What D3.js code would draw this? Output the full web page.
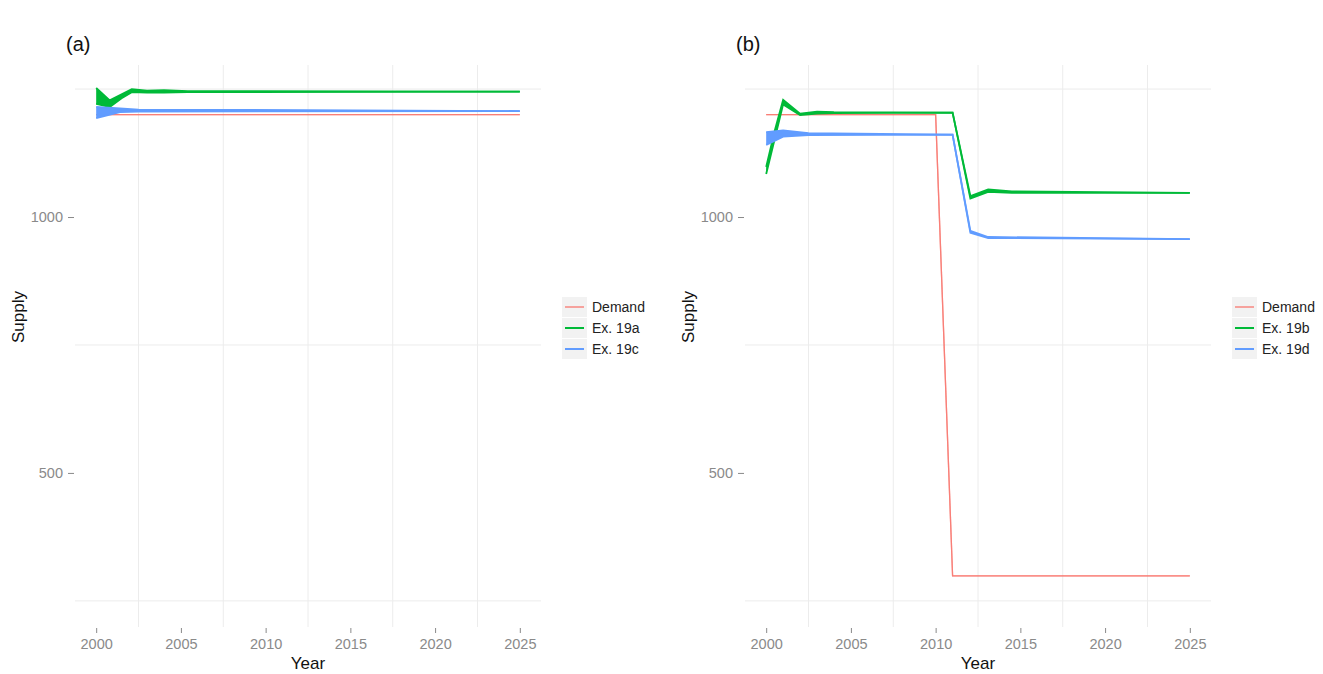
<!DOCTYPE html>
<html>
<head>
<meta charset="utf-8">
<script src="https://cdn.jsdelivr.net/npm/d3@7"></script>
<style>
  body { margin: 0; background: #ffffff; }
  svg { display: block; font-family: "Liberation Sans", Arial, sans-serif; }
</style>
</head>
<body>
<svg id="chart" width="1323" height="674"></svg>
<script>
// ---------- DATA ----------
const xTicks = [2000, 2005, 2010, 2015, 2020, 2025];
const yTicks = [500, 1000];
const xMinor = [2002.5, 2007.5, 2012.5, 2017.5, 2022.5];
const yMinor = [250, 750, 1250];

const seriesColors = ["#F8766D", "#00BA38", "#619CFF"];

// Panel (a)
const labelsA = ["Demand", "Ex. 19a", "Ex. 19c"];
const demandA_years = [2000, 2025];
const demandA_lo    = [1200, 1200];
const demandA_hi    = [1200, 1200];
const ex19a_years = [2000, 2000.8, 2001.5, 2002.1, 2003, 2004, 2005.4, 2025];
const ex19a_lo    = [1221, 1215, 1232, 1244, 1243, 1243, 1244, 1245];
const ex19a_hi    = [1252, 1228, 1240, 1250, 1247, 1248, 1246, 1245];
const ex19c_years = [2000, 2001.4, 2002.5, 2025];
const ex19c_lo    = [1193, 1205, 1206, 1207];
const ex19c_hi    = [1215, 1212, 1210, 1207];

// Panel (b)
const labelsB = ["Demand", "Ex. 19b", "Ex. 19d"];
const demandB_years = [2000, 2010, 2011, 2025];
const demandB_lo    = [1200, 1200, 299, 299];
const demandB_hi    = [1200, 1200, 299, 299];
const ex19b_years = [2000, 2000.5, 2001, 2002, 2003, 2004, 2011, 2012.05, 2013.1, 2014.5, 2025];
const ex19b_lo    = [1084, 1152, 1220, 1199, 1202, 1203, 1204, 1036, 1049, 1047, 1047];
const ex19b_hi    = [1098, 1168, 1229, 1202, 1206, 1205, 1204, 1041, 1054, 1050, 1047];
const ex19d_years = [2000, 2001, 2002.5, 2011, 2012.05, 2013.1, 2025];
const ex19d_lo    = [1141, 1157, 1160, 1161, 969, 959, 957];
const ex19d_hi    = [1166, 1169, 1164, 1161, 973, 961, 957];

const xDomain = [1998.75, 2026.25];
const yDomain = [199, 1297];

// ---------- BUILD ----------
function makeSeries(years, lo, hi) {
  return years.map((yr, i) => ({ year: yr, lo: lo[i], hi: hi[i] }));
}

const panels = [
  { tag: "(a)", left: 75, right: 541, labels: labelsA,
    series: [makeSeries(demandA_years, demandA_lo, demandA_hi),
             makeSeries(ex19a_years, ex19a_lo, ex19a_hi),
             makeSeries(ex19c_years, ex19c_lo, ex19c_hi)] },
  { tag: "(b)", left: 745, right: 1211, labels: labelsB,
    series: [makeSeries(demandB_years, demandB_lo, demandB_hi),
             makeSeries(ex19b_years, ex19b_lo, ex19b_hi),
             makeSeries(ex19d_years, ex19d_lo, ex19d_hi)] }
];

const plotTop = 65, plotBottom = 627;
const svg = d3.select("#chart");

panels.forEach((p, pi) => {
  const x = d3.scaleLinear().domain(xDomain).range([p.left, p.right]);
  const y = d3.scaleLinear().domain(yDomain).range([plotBottom, plotTop]);
  const g = svg.append("g");

  // grid (minor lines only visible)
  g.selectAll("line.hg").data(yMinor).join("line")
    .attr("x1", p.left).attr("x2", p.right)
    .attr("y1", d => y(d)).attr("y2", d => y(d))
    .attr("stroke", "#ececec").attr("stroke-width", 1);
  g.selectAll("line.vg").data(xMinor).join("line")
    .attr("y1", plotTop).attr("y2", plotBottom)
    .attr("x1", d => x(d)).attr("x2", d => x(d))
    .attr("stroke", "#ececec").attr("stroke-width", 1);

  // axes
  const xAxis = g.append("g").attr("transform", `translate(0,${plotBottom + 1})`)
    .call(d3.axisBottom(x).tickValues(xTicks).tickFormat(d3.format("d")).tickSize(5).tickPadding(6));
  const yAxis = g.append("g").attr("transform", `translate(${p.left - 1},0)`)
    .call(d3.axisLeft(y).tickValues(yTicks).tickFormat(d3.format("d")).tickSize(6).tickPadding(5));
  [xAxis, yAxis].forEach(a => {
    a.select(".domain").remove();
    a.selectAll(".tick line").attr("stroke", "#8a8a8a");
    a.selectAll(".tick text").attr("fill", "#8a8a8a").style("font-size", "14.5px")
      .style("font-family", "'Liberation Sans', Arial, sans-serif");
  });

  // axis titles
  const cx = (p.left + p.right) / 2;
  g.append("text").attr("x", cx).attr("y", 669).attr("text-anchor", "middle")
    .style("font-size", "17px").attr("fill", "#111").text("Year");
  g.append("text").attr("transform", `translate(${p.left - 51},${(plotTop + plotBottom) / 2 - 29}) rotate(-90)`)
    .attr("text-anchor", "middle").style("font-size", "17px").attr("fill", "#111").text("Supply");

  // tag
  g.append("text").attr("x", p.left - 9).attr("y", 51)
    .style("font-size", "20px").attr("fill", "#111").text(p.tag);

  // series
  const area = d3.area().x(d => x(d.year)).y0(d => y(d.lo)).y1(d => y(d.hi));
  const lineLo = d3.line().x(d => x(d.year)).y(d => y(d.lo));
  const lineHi = d3.line().x(d => x(d.year)).y(d => y(d.hi));
  p.series.forEach((s, si) => {
    const col = seriesColors[si];
    const w = si === 0 ? 1.3 : 1.8;
    const op = si === 0 ? 0.75 : 1;
    g.append("path").datum(s).attr("d", area).attr("fill", col).attr("opacity", op);
    g.append("path").datum(s).attr("d", lineLo).attr("fill", "none")
      .attr("stroke", col).attr("stroke-width", w).attr("opacity", op);
    g.append("path").datum(s).attr("d", lineHi).attr("fill", "none")
      .attr("stroke", col).attr("stroke-width", w).attr("opacity", op);
  });

  // legend
  const lx = p.right + 21, ly = 297;
  const lg = g.append("g").attr("transform", `translate(${lx},${ly})`);
  p.labels.forEach((lab, i) => {
    const row = lg.append("g").attr("transform", `translate(0,${i * 21})`);
    row.append("rect").attr("width", 25).attr("height", 20).attr("fill", "#f2f2f2");
    row.append("line").attr("x1", 3).attr("x2", 22).attr("y1", 10).attr("y2", 10)
      .attr("stroke", seriesColors[i]).attr("stroke-width", i === 0 ? 1.6 : 2)
      .attr("opacity", i === 0 ? 0.8 : 1);
    row.append("text").attr("x", 30).attr("y", 15).style("font-size", "14px")
      .attr("fill", "#222").text(lab);
  });
});
</script>
</body>
</html>
